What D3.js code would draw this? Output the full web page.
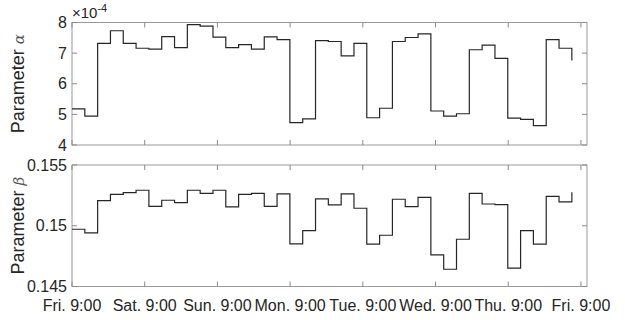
<!DOCTYPE html>
<html>
<head>
<meta charset="utf-8">
<script src="https://cdn.jsdelivr.net/npm/d3@7"></script>
<style>
  body { margin: 0; background: #fff; }
  text { font-family: "Liberation Sans", Arial, sans-serif; fill: #262626; }
</style>
</head>
<body>
<div id="chart"></div>
<script>
// hours since Fri 9:00, one value every 165/39 h
const STEP_H = 165 / 39;
const dayTicks = [0, 24, 48, 72, 96, 120, 144, 168];
const dayLabels = ["Fri. 9:00", "Sat. 9:00", "Sun. 9:00", "Mon. 9:00", "Tue. 9:00", "Wed. 9:00", "Thu. 9:00", "Fri. 9:00"];

// parameter alpha, in units of 1e-4
const alpha = [5.18, 4.94, 7.32, 7.73, 7.32, 7.16, 7.13, 7.54, 7.18, 7.93,
               7.88, 7.52, 7.18, 7.28, 7.13, 7.53, 7.44, 4.73, 4.85, 7.41,
               7.38, 6.91, 7.32, 4.89, 5.20, 7.38, 7.51, 7.63, 5.11, 4.94,
               5.02, 7.11, 7.26, 6.83, 4.88, 4.84, 4.63, 7.44, 7.16, 6.76];

const beta = [0.14971, 0.14941, 0.15207, 0.15259, 0.15273, 0.15292, 0.15160, 0.15210, 0.15190, 0.15292,
              0.15267, 0.15292, 0.15155, 0.15259, 0.15267, 0.15160, 0.15262, 0.14851, 0.14960, 0.15221,
              0.15171, 0.15262, 0.15144, 0.14848, 0.14922, 0.15218, 0.15158, 0.15234, 0.14760, 0.14642,
              0.14889, 0.15267, 0.15179, 0.15174, 0.14651, 0.14960, 0.14848, 0.15242, 0.15196, 0.15275];

const alphaTicks = [4, 5, 6, 7, 8];
const betaTicks = [0.145, 0.15, 0.155];

const W = 625, H = 320;
const svg = d3.select("#chart").append("svg").attr("width", W).attr("height", H);

const x = d3.scaleLinear().domain([0, 170]).range([72, 587]);

function panel(values, domain, ticks, fmt, top, bottom, greek) {
  const y = d3.scaleLinear().domain(domain).range([bottom, top]);
  const g = svg.append("g");

  // box
  g.append("rect")
    .attr("x", x.range()[0]).attr("y", top)
    .attr("width", x.range()[1] - x.range()[0]).attr("height", bottom - top)
    .attr("fill", "none").attr("stroke", "#9a9a9a").attr("stroke-width", 1);

  // ticks, inside, on all four sides
  const tl = 5;
  dayTicks.forEach(h => {
    g.append("line").attr("x1", x(h)).attr("x2", x(h)).attr("y1", bottom).attr("y2", bottom - tl)
      .attr("stroke", "#8a8a8a");
    g.append("line").attr("x1", x(h)).attr("x2", x(h)).attr("y1", top).attr("y2", top + tl)
      .attr("stroke", "#8a8a8a");
  });
  ticks.forEach(v => {
    g.append("line").attr("x1", x.range()[0]).attr("x2", x.range()[0] + tl).attr("y1", y(v)).attr("y2", y(v))
      .attr("stroke", "#8a8a8a");
    g.append("line").attr("x1", x.range()[1]).attr("x2", x.range()[1] - tl).attr("y1", y(v)).attr("y2", y(v))
      .attr("stroke", "#8a8a8a");
    g.append("text").attr("x", 67).attr("y", y(v)).attr("dy", "0.35em")
      .attr("text-anchor", "end").attr("font-size", 16).text(fmt(v));
  });

  const line = d3.line()
    .x((d, i) => x(i * STEP_H))
    .y(d => y(d))
    .curve(d3.curveStepAfter);
  g.append("path").datum(values).attr("d", line)
    .attr("fill", "none").attr("stroke", "#262626").attr("stroke-width", 1.2);

  const lab = g.append("text")
    .attr("transform", `translate(24,${(top + bottom) / 2}) rotate(-90)`)
    .attr("text-anchor", "middle").attr("font-size", 18);
  lab.append("tspan").text("Parameter ");
  lab.append("tspan").attr("font-style", "italic").attr("font-family", "DejaVu Serif")
    .attr("font-size", 15).attr("fill", "#555").text(greek);
  return y;
}

panel(alpha, [4, 8], alphaTicks, d3.format("d"), 22.5, 145, "α");
panel(beta, [0.145, 0.155], betaTicks, v => String(+v.toFixed(3)), 165, 286.5, "β");

// exponent label
const ex = svg.append("text").attr("x", 72).attr("y", 18).attr("font-size", 15);
ex.append("tspan").text("×10");
ex.append("tspan").attr("dy", -6).attr("font-size", 11).text("-4");

// x tick labels
svg.append("g").selectAll("text").data(dayTicks).join("text")
  .attr("x", d => x(d)).attr("y", 311)
  .attr("text-anchor", "middle").attr("font-size", 16)
  .text((d, i) => dayLabels[i]);
</script>
</body>
</html>
